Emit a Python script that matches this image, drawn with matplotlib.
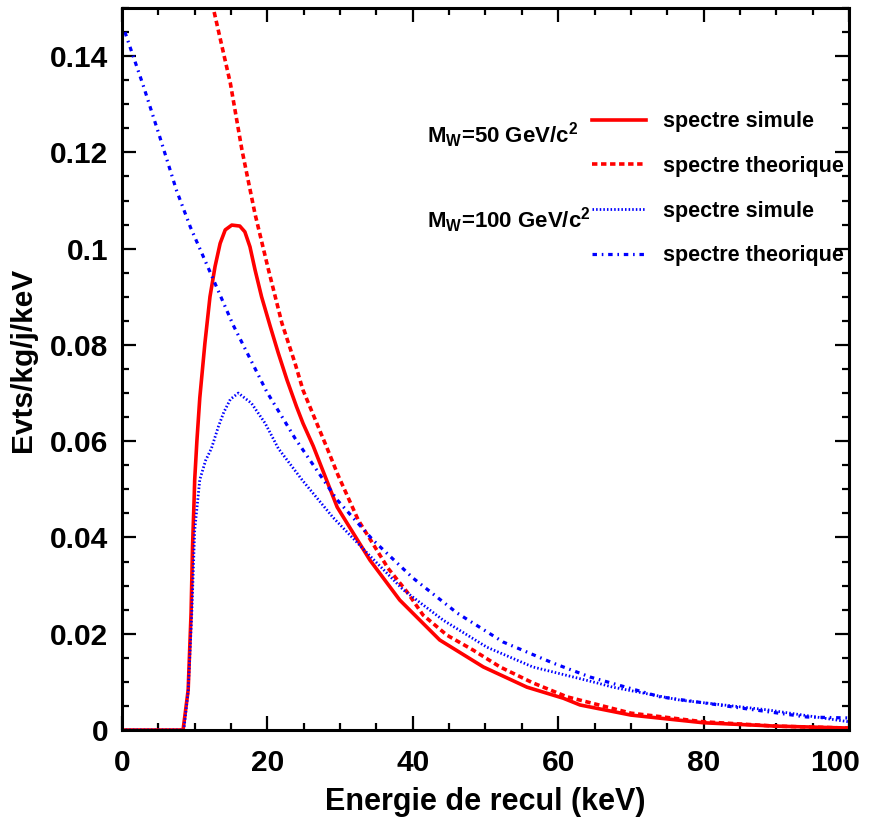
import matplotlib
matplotlib.use("Agg")
import matplotlib.pyplot as plt
from matplotlib.ticker import MultipleLocator, FormatStrFormatter
from matplotlib.transforms import ScaledTranslation

plt.rcParams["font.family"] = ["Liberation Sans", "DejaVu Sans"]
plt.rcParams["font.weight"] = "bold"
plt.rcParams["mathtext.fontset"] = "custom"
plt.rcParams["mathtext.bf"] = "Liberation Sans:bold"
plt.rcParams["mathtext.rm"] = "Liberation Sans:bold"
plt.rcParams["mathtext.default"] = "bf"

# M_W = 50 GeV/c^2, simulated spectrum
sim50_x = [0, 8.4, 9.1, 9.5, 9.7, 9.9, 10.0, 10.3, 10.7, 11.4, 12.1, 12.8,
           13.5, 14.2, 15.1, 16.2, 16.9, 17.6, 18.3, 19.2, 20.4, 21.5, 22.7,
           24.0, 24.9, 26.3, 29.6, 34.1, 38.2, 43.7, 49.7, 55.7, 60.7, 63.0,
           70.0, 80.0, 90.0, 100.0]
sim50_y = [0, 0, 0.0083, 0.0243, 0.038, 0.047, 0.052, 0.060, 0.069, 0.0803,
           0.0900, 0.0963, 0.1011, 0.1039, 0.1049, 0.1047, 0.1035, 0.1004,
           0.0956, 0.0900, 0.0838, 0.0783, 0.0727, 0.0672, 0.0637, 0.0590,
           0.0463, 0.0353, 0.0270, 0.0187, 0.0131, 0.0089, 0.0066, 0.0052,
           0.0031, 0.0015, 0.0008, 0.0004]

# M_W = 50 GeV/c^2, theoretical spectrum
th50_x = [12.4, 14.9, 16.5, 18.3, 20.1, 22.0, 23.8, 24.9, 28.2, 29.7, 32.5,
          36.6, 39.2, 41.4, 44.7, 48.3, 52.0, 56.5, 61.2, 70.0, 80.0, 90.0,
          100.0]
th50_y = [0.151, 0.1344, 0.1205, 0.1072, 0.0959, 0.0845, 0.0762, 0.0706,
          0.0586, 0.053, 0.0436, 0.0336, 0.0287, 0.0239, 0.0197, 0.0166,
          0.0131, 0.0098, 0.0069, 0.0035, 0.0017, 0.0008, 0.0004]

# M_W = 100 GeV/c^2, simulated spectrum
sim100_x = [0, 8.5, 9.1, 9.6, 10.0, 10.7, 11.5, 12.3, 13.25, 14.0, 14.9, 16.0,
            17.8, 19.7, 21.5, 24.8, 29.0, 33.7, 38.7, 44.2, 50.2, 56.5, 65.3,
            67.5, 76.8, 88.7, 100.0]
sim100_y = [0, 0, 0.008, 0.0243, 0.0415, 0.052, 0.056, 0.0585, 0.063,
            0.0660, 0.0687, 0.0700, 0.0679, 0.0637, 0.0585, 0.0519, 0.0442,
            0.0368, 0.0291, 0.0228, 0.0172, 0.0131, 0.0098, 0.0089, 0.0062,
            0.0042, 0.0017]

# M_W = 100 GeV/c^2, theoretical spectrum
th100_x = [0.4, 2.9, 5.2, 7.5, 9.4, 12.3, 15.3, 17.6, 19.9, 22.4, 23.8, 25.2,
           29.6, 34.5, 40.0, 46.1, 52.4, 59.3, 64.4, 74.0, 84.0, 94.2, 100.0]
th100_y = [0.145, 0.134, 0.1232, 0.1121, 0.1045, 0.0945, 0.0841, 0.0772,
           0.0703, 0.0641, 0.0606, 0.0575, 0.0478, 0.0395, 0.0316, 0.0243,
           0.0183, 0.0139, 0.0110, 0.0069, 0.0048, 0.0027, 0.0025]

labels = ["spectre simule", "spectre theorique", "spectre simule",
          "spectre theorique"]
x_ticks = [0, 20, 40, 60, 80, 100]

fig = plt.figure(figsize=(8.77, 8.21), dpi=100)
ax = fig.add_axes([122 / 877, 91 / 821, 727 / 877, 722 / 821])

red, blue = "#ff0000", "#0000ff"
ax.plot(sim50_x, sim50_y, color=red, lw=2.6, label=labels[0])
ax.plot(th50_x, th50_y, color=red, lw=2.6, linestyle=(0, (1.5, 1.0)),
        label=labels[1])
ax.plot(sim100_x, sim100_y, color=blue, lw=2.0, linestyle=(0, (0.55, 0.75)),
        label=labels[2])
ax.plot(th100_x, th100_y, color=blue, lw=2.3,
        linestyle=(0, (1.4, 1.5, 0.5, 1.5)), label=labels[3])

ax.set_xlim(0, 100)
ax.set_ylim(0, 0.15)
ax.set_xticks(x_ticks)
ax.xaxis.set_minor_locator(MultipleLocator(5))
ax.yaxis.set_major_locator(MultipleLocator(0.02))
ax.yaxis.set_minor_locator(MultipleLocator(0.005))
ax.yaxis.set_major_formatter(FormatStrFormatter("%g"))
ax.tick_params(which="both", direction="in", top=True, right=True,
               width=1.6, labelsize=21.5)
ax.tick_params(axis="x", pad=14)
ax.tick_params(axis="y", pad=10)
ax.tick_params(which="major", length=10)
ax.tick_params(which="minor", length=5)
for s in ax.spines.values():
    s.set_linewidth(2.2)

ax.set_xlabel("Energie de recul (keV)", fontsize=22, fontweight="bold",
              labelpad=7)
ax.set_ylabel("Evts/kg/j/keV", fontsize=21.5, fontweight="bold")
ax.yaxis.set_label_coords(-0.117, 0.512)

ax.legend(loc="upper left", bbox_to_anchor=(0.6465, 0.857), frameon=False,
          fontsize=15.5, borderpad=0, borderaxespad=0, handlelength=2.5,
          handletextpad=0.8, labelspacing=1.1)

ax.text(0.4195, 0.8135, r"M$_{W}$=50 GeV/c$^{2}$", transform=ax.transAxes,
        fontsize=16, fontweight="bold")
ax.text(0.4195, 0.695, r"M$_{W}$=100 GeV/c$^{2}$", transform=ax.transAxes,
        fontsize=16, fontweight="bold")

# the last x label sits a bit inside the frame, as in the original
last = ax.xaxis.get_major_ticks()[len(x_ticks) - 1].label1
last.set_transform(last.get_transform()
                   + ScaledTranslation(-0.14, 0, fig.dpi_scale_trans))

fig.savefig("out.png", dpi=100)
